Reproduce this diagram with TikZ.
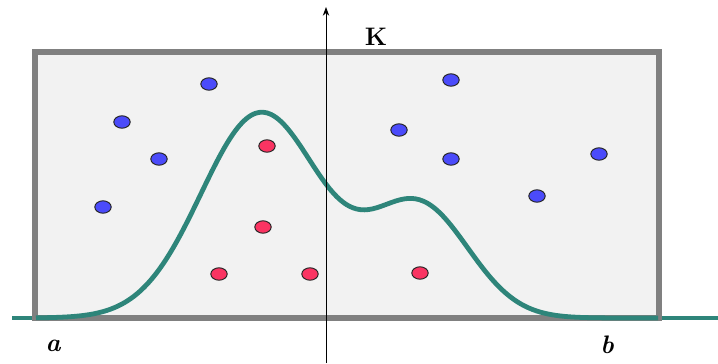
\documentclass[tikz,border=0pt]{standalone}
\usepackage{xcolor}
\usepackage{tikz}
\usetikzlibrary{arrows.meta,shapes.geometric}
\definecolor{boxgray}{HTML}{808080}
\definecolor{boxfill}{HTML}{F2F2F2}
\definecolor{curveteal}{HTML}{2E857A}
\definecolor{ptblue}{HTML}{4B4BFA}
\definecolor{ptred}{HTML}{FA3462}

\begin{document}
\begin{tikzpicture}[
  x=0.025cm,y=-0.025cm,
  frame/.style={draw=boxgray,fill=boxfill,line width=3.6pt},
  density/.style={draw=curveteal,line width=3.4pt},
  pt/.style={ellipse,draw=black!85,line width=0.7pt,
             minimum width=0.41cm,minimum height=0.31cm,inner sep=0pt},
  bluept/.style={pt,fill=ptblue},
  redpt/.style={pt,fill=ptred},
  lbl/.style={anchor=base,inner sep=0pt},
  arr/.style={-{Stealth[length=2.2mm,width=1.6mm]},draw=black,line width=0.6pt}
]
\useasboundingbox (0,0) rectangle (718,363);

% ---- baseline, box and density
\coordinate (bl) at (12,318);
\coordinate (br) at (718,318);
\draw[density] (bl) -- (br);
\draw[frame] (35,52) rectangle (659,318);
\draw[density,line join=round] plot[domain=36:658,samples=160,smooth]
  (\x,{318-205*exp(-((\x-261)/84.85)^2)-112*exp(-((\x-419)/70.71)^2)});

% ---- axis
\coordinate (axbot) at (326,363);
\coordinate (axtop) at (326,7);
\draw[arr] (axbot) -- (axtop);
\node[lbl,font=\fontsize{18}{20}\selectfont\bfseries] (k) at (376,45) {K};

% ---- points
\node[bluept] (b1) at (209,84) {};
\node[bluept] (b2) at (122,122) {};
\node[bluept] (b3) at (159,159) {};
\node[bluept] (b4) at (103,207) {};
\node[bluept] (b5) at (451,80) {};
\node[bluept] (b6) at (399,130) {};
\node[bluept] (b7) at (451,159) {};
\node[bluept] (b8) at (599,154) {};
\node[bluept] (b9) at (537,196) {};
\node[redpt] (r1) at (267,146) {};
\node[redpt] (r2) at (263,227) {};
\node[redpt] (r3) at (219,274) {};
\node[redpt] (r4) at (310,274) {};
\node[redpt] (r5) at (420,273) {};

% ---- interval ends
\node[lbl,font=\fontsize{18}{20}\selectfont\bfseries\itshape] (a) at (53,351) {a};
\node[lbl,font=\fontsize{18}{20}\selectfont\bfseries\itshape] (b) at (607,353) {b};
\end{tikzpicture}
\end{document}
